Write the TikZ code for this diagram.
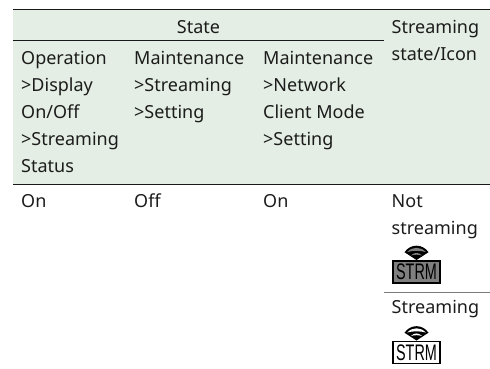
\documentclass[tikz,border=0pt]{standalone}
\usepackage{fontspec}
\setmainfont{Noto Sans}
\newfontfamily\iconfont{Liberation Sans}
\definecolor{headfill}{HTML}{E4EEE4}
\definecolor{inkc}{HTML}{1C1C1C}
\definecolor{iconfill}{HTML}{7F7F7F}
\definecolor{rulegray}{HTML}{7A7A7A}
\tikzset{
  cell/.style={anchor=north west,inner sep=0pt,align=left,text=inkc,
    font=\fontsize{18}{27}\selectfont},
  rulemain/.style={draw=black!90,line width=0.9pt},
  rulethin/.style={draw=rulegray,line width=0.8pt},
  iconbox/.style={draw=black,line width=1.7pt,minimum width=47.5pt,minimum height=22pt,inner sep=0pt,
    font=\iconfont\fontsize{22.5}{22.5}\selectfont,text=black},
}
\newcommand{\wifisign}[3]{%
  \begin{scope}[shift={(#1,#2)}]
    \fill[black] (-12,-7.8) .. controls (-6,-16.5) and (6,-16.5) .. (12,-7.8) -- (0,0) -- cycle;
    \fill[#3] (-9.3,-8) .. controls (-4,-13.6) and (4,-13.6) .. (9.3,-8)
       .. controls (4,-9.6) and (-4,-9.6) .. (-9.3,-8) -- cycle;
    \fill[#3] (-5.6,-4.5) .. controls (-2,-7.9) and (2,-7.9) .. (5.6,-4.5)
       .. controls (2,-5.6) and (-2,-5.6) .. (-5.6,-4.5) -- cycle;
  \end{scope}}
\begin{document}
\begin{tikzpicture}[x=1pt,y=-1pt]
\useasboundingbox (0,0) rectangle (490,368);
\coordinate (tl) at (13,9);
\coordinate (tr) at (490,9);
\coordinate (hl) at (13,40);
\coordinate (hr) at (384,40);
\coordinate (bl) at (13,184);
\coordinate (br) at (490,184);
\coordinate (sl) at (384,292);
\coordinate (sr) at (490,292);
\fill[headfill] (tl) rectangle (br);
\draw[rulemain] (tl) -- (tr);
\draw[rulemain] (hl) -- (hr);
\draw[rulemain] (bl) -- (br);
\draw[rulethin] (sl) -- (sr);
\node[cell,anchor=base] (state) at (198.5,33.5) {State};
\node[cell] (c1) at (21,45.1) {\strut Operation\\>Display\\On/Off\\>Streaming\\Status};
\node[cell] (c2) at (134,45.1) {\strut Maintenance\\>Streaming\\>Setting};
\node[cell] (c3) at (263,45.1) {\strut Maintenance\\>Network\\Client Mode\\>Setting};
\node[cell] (c4) at (391.5,14.6) {\strut Streaming\\state/Icon};
\node[cell] (r1) at (21,188.6) {\strut On};
\node[cell] (r2) at (134,188.6) {\strut Off};
\node[cell] (r3) at (263,188.6) {\strut On};
\node[cell] (r4) at (391.5,188.6) {\strut Not\\streaming};
\node[cell] (r5) at (391.5,294.6) {\strut Streaming};
\node[iconbox,fill=iconfill] (ic1) at (416.5,272) {\raisebox{-1pt}{\scalebox{0.64}[1]{STRM}}};
\node[iconbox,fill=white] (ic2) at (416.5,352.5) {\raisebox{-1pt}{\scalebox{0.64}[1]{STRM}}};
\wifisign{416.5}{260}{iconfill}
\wifisign{416.5}{340.5}{white}
\end{tikzpicture}
\end{document}
